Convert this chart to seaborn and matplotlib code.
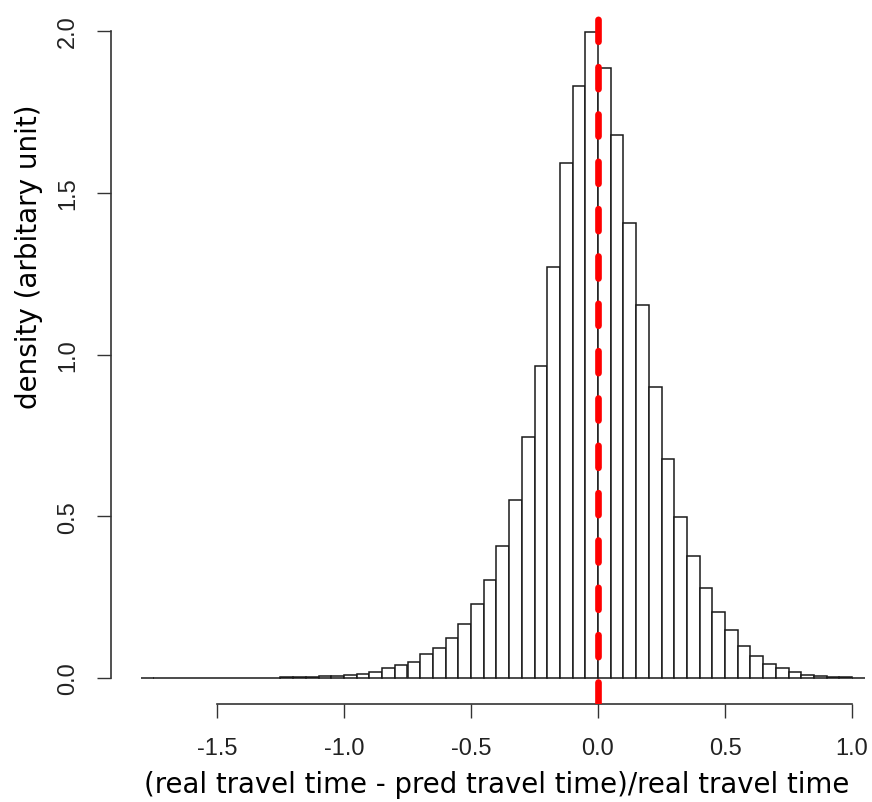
import numpy as np
import pandas as pd
import matplotlib
matplotlib.use("Agg")
import matplotlib.pyplot as plt
import seaborn as sns

# ---- data ----
bin_start = -1.80
bin_width = 0.05
densities = [
    0.0002, 0.0002, 0.0003, 0.0003, 0.0004, 0.0005, 0.0006, 0.0008, 0.0010, 0.0012,
    0.0015, 0.0020, 0.0030, 0.0040, 0.0050, 0.0070, 0.0100, 0.0130, 0.0180, 0.0300,
    0.0400, 0.0490, 0.0730, 0.0930, 0.1250, 0.1670, 0.2300, 0.3030, 0.4090, 0.5510,
    0.7440, 0.9650, 1.2710, 1.5910, 1.8290, 1.9960, 1.8850, 1.6790, 1.4050, 1.1530,
    0.9000, 0.6760, 0.4980, 0.3780, 0.2770, 0.2050, 0.1470, 0.0990, 0.0670, 0.0420,
    0.0310, 0.0190, 0.0100, 0.0060, 0.0040, 0.0030, 0.0010,
]
x_ticks = [-1.5, -1.0, -0.5, 0.0, 0.5, 1.0]
x_ticklabels = ["-1.5", "-1.0", "-0.5", "0.0", "0.5", "1.0"]
y_ticks = [0.0, 0.5, 1.0, 1.5, 2.0]
y_ticklabels = ["0.0", "0.5", "1.0", "1.5", "2.0"]
ref_line_x = 0.0
xlabel = "(real travel time - pred travel time)/real travel time"
ylabel = "density (arbitary unit)"

n = len(densities)
edges = [round(bin_start + bin_width * i, 4) for i in range(n + 1)]
df = pd.DataFrame({
    "x": [(edges[i] + edges[i + 1]) / 2 for i in range(n)],
    "w": densities,
})

sns.set_style("ticks")
plt.rcParams["font.family"] = ["Liberation Sans", "DejaVu Sans"]

W, H = 872, 803
fig = plt.figure(figsize=(W / 100, H / 100), dpi=100)
ax = fig.add_axes([111 / W, (H - 705) / H, (W - 111) / W, 699 / H])

sns.histplot(data=df, x="x", weights="w", bins=edges, stat="count",
             color="white", edgecolor="#1a1a1a", linewidth=1.1, alpha=1.0, ax=ax)

ax.axvline(ref_line_x, color="#ff0000", lw=4.8, linestyle=(0, (3.3, 3.8)),
           dash_capstyle="round", zorder=5)

# pixel mapping: x 0 -> 598px, 254 px/unit; y 0 -> 679px, 323.5 px/unit
ax.set_xlim((111 - 598) / 254, (872 - 598) / 254)
ax.set_ylim(-(705 - 679) / 323.5, (679 - 6) / 323.5)

for s in ["top", "right"]:
    ax.spines[s].set_visible(False)
for s in ["left", "bottom"]:
    ax.spines[s].set_color("#333333")
    ax.spines[s].set_linewidth(1.2)
ax.spines["left"].set_bounds(0, 2)
ax.spines["bottom"].set_bounds(-1.5, 1.0)

ax.set_xticks(x_ticks)
ax.set_xticklabels(x_ticklabels)
ax.set_yticks(y_ticks)
ax.set_yticklabels(y_ticklabels, rotation=90, va="center")
ax.tick_params(axis="both", which="major", direction="out", length=10, width=1.0,
               color="#333333", labelsize=17, labelcolor="#222222",
               bottom=True, left=True, top=False, right=False)
ax.tick_params(axis="x", pad=14)
ax.tick_params(axis="y", pad=13)

ax.set_xlabel(xlabel, family="DejaVu Sans", fontsize=19.8, color="black", va="center")
ax.xaxis.set_label_coords((496.5 - 111) / (W - 111), -(785 - 705) / 699)
ax.set_ylabel(ylabel, family="DejaVu Sans", fontsize=20, color="black", va="center")
ax.yaxis.set_label_coords(-(111 - 29) / (W - 111), (705 - 257) / 699)

fig.savefig("out.png", dpi=100, facecolor="white")
